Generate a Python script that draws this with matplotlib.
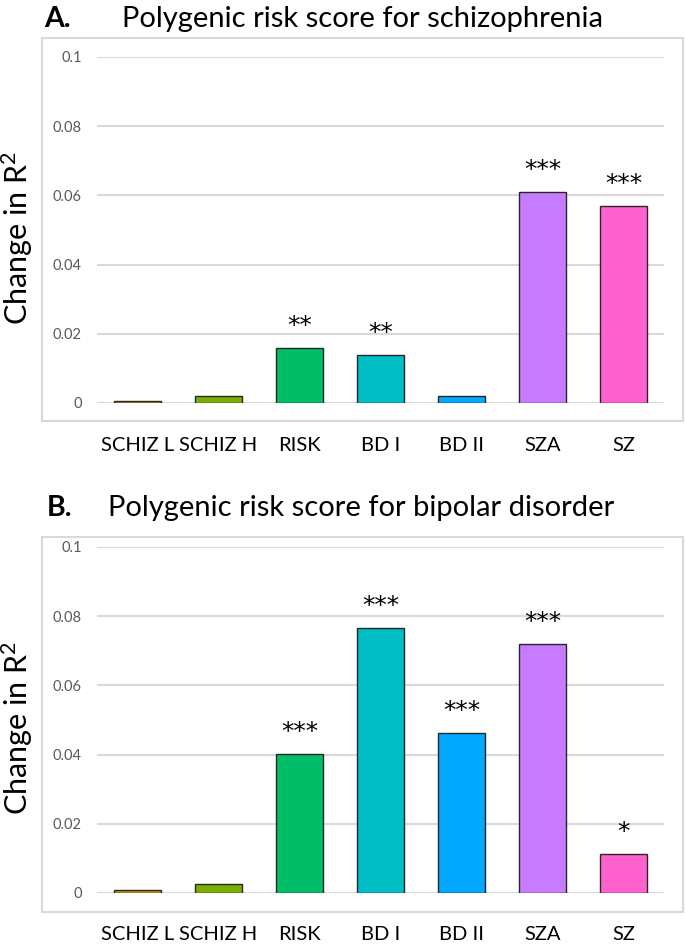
import matplotlib
matplotlib.use("Agg")
import matplotlib.pyplot as plt
import matplotlib.transforms as mtransforms
from matplotlib.patches import Rectangle

plt.rcParams["font.family"] = ["Lato", "DejaVu Sans"]
plt.rcParams["mathtext.fontset"] = "custom"
plt.rcParams["mathtext.rm"] = "Lato"
plt.rcParams["mathtext.it"] = "Lato"

# ─── Data ────────────────────────────────────────────────────────────────────
categories = ["SCHIZ L", "SCHIZ H", "RISK", "BD I", "BD II", "SZA", "SZ"]
bar_colors = ["#CD9600", "#7CAE00", "#00BE67", "#00BFC4", "#00A9FF", "#C77CFF", "#FF61CC"]

scz_r2    = [0.0006, 0.0020, 0.0159, 0.0138, 0.0020, 0.0610, 0.0570]
scz_stars = ["", "", "**", "**", "", "***", "***"]

bip_r2    = [0.0010, 0.0026, 0.0401, 0.0765, 0.0463, 0.0720, 0.0113]
bip_stars = ["", "", "***", "***", "***", "***", "*"]

yticks      = [0, 0.02, 0.04, 0.06, 0.08, 0.1]
ytick_names = ["0", "0.02", "0.04", "0.06", "0.08", "0.1"]

W, H = 685, 944
GRID = "#D9D9D9"
TICK = "#595959"


def px(x, y):
    """pixel (from top-left) -> figure fraction"""
    return x / W, 1 - y / H


def panel(fig, top, bottom, frame, letter, letter_x, title, title_x, title_y,
          values, stars, label_y):
    x0, y0 = px(97, bottom)
    x1, y1 = px(664, top)
    ax = fig.add_axes([x0, y0, x1 - x0, y1 - y0])

    # frame around the chart area
    fx0, fy0 = px(frame[0], frame[3])
    fx1, fy1 = px(frame[2], frame[1])
    fig.patches.append(Rectangle((fx0, fy0), fx1 - fx0, fy1 - fy0,
                                 transform=fig.transFigure, fill=False,
                                 ec=GRID, lw=1.5, zorder=0))

    xs = range(len(categories))
    ax.bar(xs, values, width=0.58, color=bar_colors, edgecolor="#262626",
           linewidth=1.0, zorder=3)

    for x, v, s in zip(xs, values, stars):
        if s:
            ax.annotate(s, (x, v), xytext=(0, 11), textcoords="offset points",
                        ha="center", va="baseline", fontsize=18,
                        family="DejaVu Sans", color="black")

    ax.set_xlim(-0.5, 6.5)
    ax.set_ylim(0, 0.1)
    ax.set_yticks(yticks)
    ax.set_yticklabels(ytick_names, color=TICK, fontsize=10.5)
    ax.tick_params(axis="y", length=0, pad=11)
    ax.set_xticks([])
    ax.grid(axis="y", color=GRID, lw=1.5, zorder=0)
    ax.set_axisbelow(True)
    for sp in ax.spines.values():
        sp.set_visible(False)
    ax.set_facecolor("none")

    # category names below the frame
    trans = mtransforms.blended_transform_factory(ax.transData, ax.transAxes)
    for x, name in zip(xs, categories):
        ax.text(x, -(label_y - bottom) / (bottom - top), name, transform=trans,
                ha="center", va="center", fontsize=14.5, color="black")

    # titles
    lx, ly = px(letter_x, title_y)
    fig.text(lx, ly, letter, fontsize=20.5, fontweight="bold", va="baseline")
    tx, _ = px(title_x, title_y)
    fig.text(tx, ly, title, fontsize=21, va="baseline")

    # y label
    cx, cy = px(17, (top + bottom) / 2 + 8)
    fig.text(cx, cy, "Change in R$^2$", rotation=90, fontsize=22,
             ha="center", va="center")
    return ax


fig = plt.figure(figsize=(W / 100, H / 100), dpi=100, facecolor="white")

panel(fig, 57, 403, (42, 38, 683, 421), "A.", 44,
      "Polygenic risk score for schizophrenia", 122, 27,
      scz_r2, scz_stars, 446)
panel(fig, 547, 893, (42, 537, 683, 912), "B.", 47,
      "Polygenic risk score for bipolar disorder", 108, 516,
      bip_r2, bip_stars, 934)

fig.savefig("out.png", dpi=100, facecolor="white")
